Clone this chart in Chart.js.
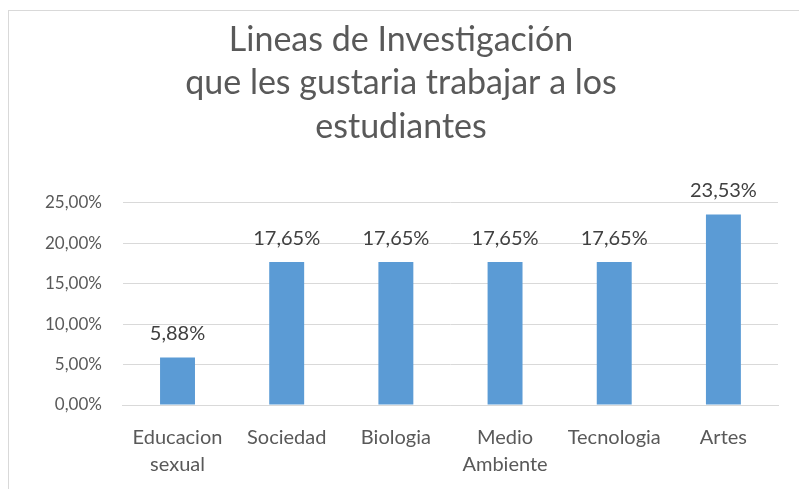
<!DOCTYPE html>
<html>
<head>
<meta charset="utf-8">
<script src="https://cdn.jsdelivr.net/npm/chart.js@4/dist/chart.umd.min.js"></script>
<style>
  html, body { margin: 0; padding: 0; background: #fff; }
  #frame {
    position: absolute; left: 8px; top: 10px; width: 820px; height: 500px;
    border: 1px solid #d9d9d9; box-sizing: border-box;
  }
  #wrap { position: absolute; left: 0; top: 0; width: 799px; height: 489px; }
</style>
</head>
<body>
<div id="frame"></div>
<div id="wrap"><canvas id="barChart"></canvas></div>
<script>
"use strict";

var categories = [
  ["Educacion", "sexual"],
  "Sociedad",
  "Biologia",
  ["Medio", "Ambiente"],
  "Tecnologia",
  "Artes",
];
var percentages = [5.88, 17.65, 17.65, 17.65, 17.65, 23.53];
var titleLines = [
  "Lineas de Investigación",
  "que les gustaria trabajar a los",
  "estudiantes",
];

function pct(v) {
  return v.toFixed(2).replace(".", ",") + "%";
}

// draws the value above each bar
var valueLabels = {
  id: "valueLabels",
  afterDatasetsDraw: function (chart) {
    var ctx = chart.ctx;
    var meta = chart.getDatasetMeta(0);
    ctx.save();
    ctx.font = "20px Lato, 'Open Sans', sans-serif";
    ctx.fillStyle = "#404040";
    ctx.textAlign = "center";
    ctx.textBaseline = "bottom";
    meta.data.forEach(function (bar, i) {
      ctx.fillText(pct(percentages[i]), bar.x, bar.y - 14);
    });
    ctx.restore();
  },
};

var ctxBar = document.getElementById("barChart").getContext("2d");
var barChart = new Chart(ctxBar, {
  type: "bar",
  plugins: [valueLabels],
  data: {
    labels: categories,
    datasets: [
      {
        data: percentages,
        backgroundColor: "#5b9bd5",
        borderWidth: 0,
        barPercentage: 0.32,
        categoryPercentage: 1,
      },
    ],
  },
  options: {
    responsive: true,
    maintainAspectRatio: false,
    animation: false,
    layout: {
      padding: { left: 24, right: 21, top: 12, bottom: 0 },
    },
    plugins: {
      legend: { display: false },
      tooltip: { enabled: false },
      title: {
        display: true,
        text: titleLines,
        color: "#595959",
        font: { family: "Lato, 'Open Sans', sans-serif", size: 34, weight: "normal", lineHeight: 1.28 },
        padding: { top: 6, bottom: 54 },
      },
    },
    scales: {
      x: {
        grid: { display: false },
        border: { color: "#d9d9d9", width: 1 },
        ticks: {
          color: "#595959",
          font: { family: "Lato, 'Open Sans', sans-serif", size: 20, lineHeight: 1.35 },
          maxRotation: 0,
          autoSkip: false,
          padding: 11,
        },
      },
      y: {
        min: 0,
        max: 25,
        grid: { color: "#d9d9d9", drawTicks: false },
        border: { display: false },
        ticks: {
          stepSize: 5,
          color: "#595959",
          font: { family: "Lato, 'Open Sans', sans-serif", size: 17 },
          padding: 21,
          callback: function (v) { return pct(v); },
        },
      },
    },
  },
});
</script>
</body>
</html>
